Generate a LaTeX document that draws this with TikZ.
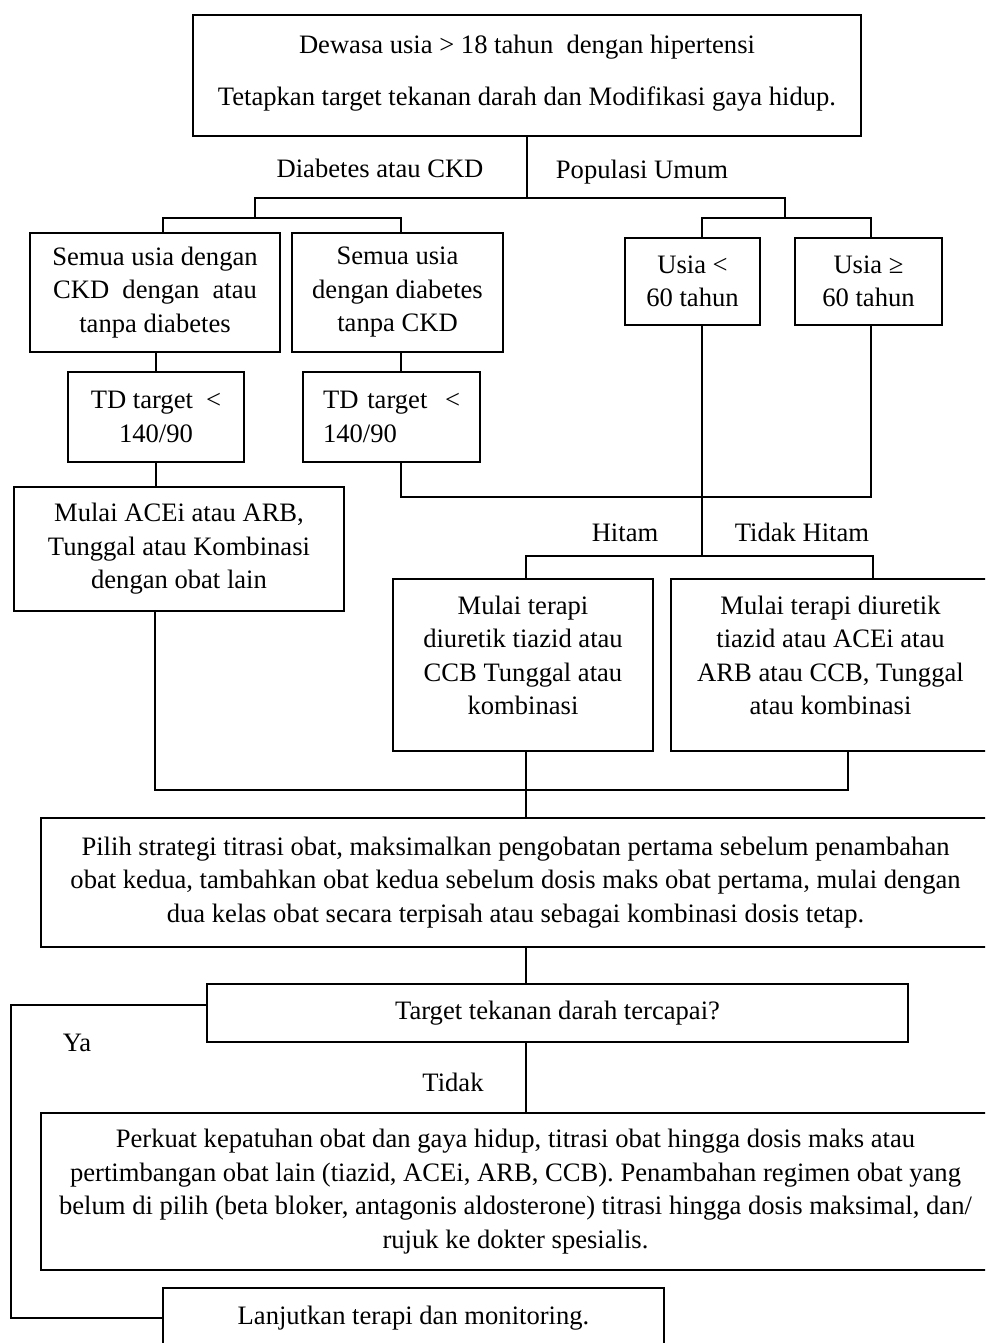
\documentclass[tikz,border=0pt]{standalone}
\usepackage{fontspec}
\setmainfont{Liberation Serif}
\usetikzlibrary{calc}
% centred multi-line text, moved by (#1,#2) without changing its reported size
\newcommand\movedtext[3]{\raisebox{#2}[\height][\depth]{\kern#1\relax\begin{tabular}{@{}c@{}}#3\end{tabular}\kern-#1\relax}}
\begin{document}
\begin{tikzpicture}[x=1pt,y=-1pt,
  txt/.style={font=\fontsize{26.6}{33.5}\selectfont},
  box/.style={txt, draw, line width=1.8pt, inner sep=0pt, align=center},
  lbl/.style={txt, inner sep=0pt},
  conn/.style={line width=1.5pt}]
\useasboundingbox (0,0) rectangle (985,1343);
\clip (0,0) rectangle (985,1343);

% boxes
\node[box, minimum width=668pt, minimum height=121pt] (top) at (527,75.5)
  {\movedtext{0pt}{2.5pt}{Dewasa usia > 18 tahun \ dengan hipertensi\\[18.5pt]
   Tetapkan target tekanan darah dan Modifikasi gaya hidup.}};
\node[box, minimum width=250pt, minimum height=119pt] (ckd) at (155,292.5)
  {Semua usia dengan\\CKD \ dengan \ atau\\tanpa diabetes};
\node[box, minimum width=211pt, minimum height=119pt] (dm) at (397.5,292.5)
  {Semua usia\\dengan diabetes\\tanpa CKD};
\node[box, minimum width=135pt, minimum height=87pt] (young) at (692.5,281.5)
  {Usia <\\60 tahun};
\node[box, minimum width=147pt, minimum height=87pt] (old) at (868.5,281.5)
  {Usia ≥\\60 tahun};
\node[box, minimum width=176pt, minimum height=90pt] (td1) at (156,417)
  {TD target \ <\\140/90};
\node[box, minimum width=177pt, minimum height=90pt, text width=157pt, align=left] (td2) at (391.5,417)
  {\hspace*{10pt}TD target \ <\\\hspace*{10pt}140/90};
\node[box, minimum width=330pt, minimum height=124pt] (acei) at (179,549)
  {Mulai ACEi atau ARB,\\Tunggal atau Kombinasi\\dengan obat lain};
\node[box, minimum width=260pt, minimum height=172pt] (black) at (523,665)
  {\movedtext{0pt}{7pt}{Mulai terapi\\diuretik tiazid atau\\CCB Tunggal atau\\kombinasi}};
\node[box, minimum width=319pt, minimum height=172pt] (nonblack) at (830.5,665)
  {\movedtext{0pt}{7pt}{Mulai terapi diuretik\\tiazid atau ACEi atau\\ARB atau CCB, Tunggal\\atau kombinasi}};
\node[box, minimum width=949pt, minimum height=129pt] (strat) at (515.5,882.5)
  {Pilih strategi titrasi obat, maksimalkan pengobatan pertama sebelum penambahan\\
   obat kedua, tambahkan obat kedua sebelum dosis maks obat pertama, mulai dengan\\
   dua kelas obat secara terpisah atau sebagai kombinasi dosis tetap.};
\node[box, minimum width=701pt, minimum height=58pt] (goal) at (557.5,1013)
  {Target tekanan darah tercapai?};
\node[box, minimum width=949pt, minimum height=157pt] (intens) at (515.5,1191.5)
  {Perkuat kepatuhan obat dan gaya hidup, titrasi obat hingga dosis maks atau\\
   pertimbangan obat lain (tiazid, ACEi, ARB, CCB). Penambahan regimen obat yang\\
   belum di pilih (beta bloker, antagonis aldosterone) titrasi hingga dosis maksimal, dan/\\
   rujuk ke dokter spesialis.};
\node[box, minimum width=501pt, minimum height=60pt] (cont) at (413.5,1318)
  {Lanjutkan terapi dan monitoring.};

% branch labels
\node[lbl] (lDM) at (380,168) {Diabetes atau CKD};
\node[lbl] (lPU) at (642,172) {Populasi Umum};
\node[lbl] (lBl) at (625,533) {Hitam};
\node[lbl] (lNB) at (802,532) {Tidak Hitam};
\node[lbl] (lYa) at (77,1043) {Ya};
\node[lbl] (lNo) at (453,1082) {Tidak};

% junction points of the connector tree
\coordinate (yMain) at (0,198);
\coordinate (yL) at (255,218);
\coordinate (yR) at (785,218);
\coordinate (xD) at (401,0);
\coordinate (jMerge) at (702,497);
\coordinate (jRace) at (702,556);
\coordinate (xB) at (526,0);
\coordinate (xN) at (873,0);
\coordinate (jDrug) at (526,790);
\coordinate (xA) at (155,0);
\coordinate (xT) at (848,0);
\coordinate (yaTop) at (11,1005);

% connectors
\begin{scope}[conn]
\draw (top.south) -- (top.south |- yMain);
\draw (yL) -- (yL |- yMain) -- (yR |- yMain) -- (yR);
\draw ($(ckd.north)+(8,0)$) |- (yL) -| ($(dm.north)+(3.5,0)$);
\draw ($(young.north)+(9.5,0)$) |- (yR) -| ($(old.north)+(2.5,0)$);
\draw (ckd.south -| td1.north) -- (td1.north);
\draw (dm.south -| xD) -- (td2.north -| xD);
\draw (td1.south) -- (td1.south |- acei.north);
\draw (td2.south -| xD) |- (jMerge) -| ($(old.south)+(2.5,0)$);
\draw ($(young.south)+(9.5,0)$) -- (jRace);
\draw (black.north -| xB) |- (jRace) -| (nonblack.north -| xN);
\draw (acei.south -| xA) |- (jDrug) -| (nonblack.south -| xT);
\draw (black.south -| xB) -- (strat.north -| xB);
\draw (strat.south -| xB) -- (goal.north -| xB);
\draw (goal.south -| xB) -- (intens.north -| xB);
\draw (goal.west |- yaTop) -- (yaTop) |- (cont.west);
\end{scope}
\end{tikzpicture}
\end{document}
